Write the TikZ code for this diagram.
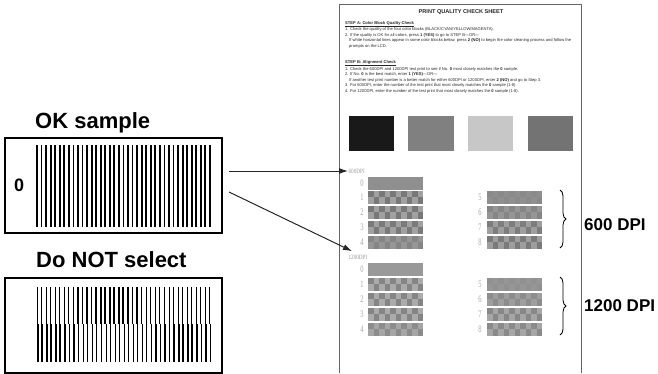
\documentclass[tikz,border=0pt]{standalone}
\usepackage{fontspec}
\setmainfont{Liberation Sans}
\newfontfamily\sheetserif{Liberation Serif}
\usetikzlibrary{arrows.meta, positioning, decorations.pathreplacing, calc}

% one checker bar of the alignment test print: x, y, base shade, cell shade
\newcommand{\chkbar}[4]{%
  \fill[black!#3] ({#1},{#2}) rectangle ++(55,12.5);
  \foreach \cx in {0,2,...,8}
    \fill[black!#4] ({#1+\cx*5.5},{#2}) rectangle ++(5.5,6.25);
  \foreach \cx in {1,3,...,9}
    \fill[black!#4] ({#1+\cx*5.5},{#2+6.25}) rectangle ++(5.5,6.25);
}

\begin{document}
\begin{tikzpicture}[
    x=1pt, y=-1pt,
    % Sample boxes on the left
    samplebox/.style={
      rectangle, draw, line width=2pt,
      minimum width=217pt, minimum height=95pt
    },
    headtext/.style={font=\bfseries\fontsize{22}{24}\selectfont, inner sep=0pt},
    dpitext/.style={font=\bfseries\fontsize{17}{20}\selectfont, inner sep=0pt},
    % Texts printed on the check sheet
    steptext/.style={font=\fontsize{4.1}{5.5}\selectfont, align=left,
      text=black!85, inner sep=0pt},
    dpilbl/.style={font=\sheetserif\fontsize{6.5}{7}\selectfont, text=black!40,
      inner sep=0.5pt, xscale=0.8},
    rownum/.style={font=\sheetserif\fontsize{10}{10}\selectfont, text=black!35,
      inner sep=0pt, xscale=0.65},
    % Pointer arrow
    ptr/.style={-{Latex[length=9pt,width=6pt]}, line width=1pt, black!85},
    dpibrace/.style={decorate, decoration={brace, amplitude=6pt}, line width=0.8pt}
  ]
  \useasboundingbox (0,0) rectangle (658,373);

  % ============ OK sample ============
  \node[samplebox] (okbox) at (113.5,185) {};
  \node[headtext, above right=3pt and 31pt of okbox.north west] (oklbl) {OK sample};
  \node[font=\bfseries\fontsize{18}{18}\selectfont, inner sep=0pt,
    right=10pt of okbox.west] (okzero) {0};
  \foreach \i in {0,...,38}
    \draw[line width=1.8pt] ({37+\i*4.55},145) -- ++(0,82);

  % ============ Do NOT select ============
  \node[samplebox, below=43pt of okbox] (noselbox) {};
  \node[headtext, above right=9pt and 32pt of noselbox.north west] (nosellbl) {Do NOT select};
  \foreach \i in {0,...,38} {
    \pgfmathsetmacro{\wa}{1.25-0.75*cos((\i-2)*12)}
    \pgfmathsetmacro{\wb}{2.5-\wa}
    \draw[line width=\wa pt] ({37+\i*4.55},287) -- ++(0,37);
    \draw[line width=\wb pt] ({37.6+\i*4.55},324) -- ++(0,38);
  }

  % ============ Check sheet ============
  \draw[black!60, line width=0.8pt] (339,373) -- (339,4) -- (581,4) -- (581,373);
  \node[font=\bfseries\fontsize{5.6}{6}\selectfont, text=black!85] (title) at (461,12)
    {PRINT QUALITY CHECK SHEET};
  \node[steptext, anchor=north west] (stepA) at (345,21)
    {\underline{\textbf{STEP A: Color Block Quality Check}}\\
     1. Check the quality of the four color blocks (BLACK/CYAN/YELLOW/MAGENTA).\\
     2. If the quality is OK for all colors, press \textbf{1 (YES)} to go to STEP B---OR---\\
     \hspace*{4pt}If white horizontal lines appear in some color blocks below, press \textbf{2 (NO)} to begin the color cleaning process and follow the\\
     \hspace*{4pt}prompts on the LCD.};
  \node[steptext, anchor=north west] (stepB) at (345,60)
    {\underline{\textbf{STEP B: Alignment Check}}\\
     1. Check the 600DPI and 1200DPI test print to see if No. \textbf{0} most closely matches the \textbf{0} sample.\\
     2. If No. \textbf{0} is the best match, enter \textbf{1 (YES)}---OR---\\
     \hspace*{4pt}If another test print number is a better match for either 600DPI or 1200DPI, enter \textbf{2 (NO)} and go to Step 3.\\
     3. For 600DPI, enter the number of the test print that most closely matches the \textbf{0} sample (1-8).\\
     4. For 1200DPI, enter the number of the test print that most closely matches the \textbf{0} sample (1-8).};

  % color blocks
  \fill[black!90] (349,116) rectangle (394,151);
  \fill[black!50] (408,116) rectangle (454,151);
  \fill[black!22] (468,116) rectangle (513,151);
  \fill[black!55] (528,116) rectangle (573,151);

  % ============ 600DPI test print ============
  \node[dpilbl, anchor=west] (lbl600) at (348,171) {600DPI};
  \fill[black!44] (368,177) rectangle ++(55,12.5);
  \node[rownum] (n600r0) at (362,183) {0};
  \foreach \r/\bs/\cs in {1/37/53, 2/37/53, 3/37/52, 4/41/48} {
    \chkbar{368}{176+\r*15}{\bs}{\cs}
    \node[rownum] at (362,{182+\r*15}) {\r};
  }
  \foreach \r/\bs/\cs in {5/44/46, 6/41/48, 7/38/51, 8/38/52} {
    \chkbar{487}{176+(\r-4)*15}{\bs}{\cs}
    \node[rownum] at (480,{182+(\r-4)*15}) {\r};
  }

  % ============ 1200DPI test print ============
  \node[dpilbl, anchor=west] (lbl1200) at (348,257) {1200DPI};
  \fill[black!40] (368,263) rectangle ++(55,12.5);
  \node[rownum] (n1200r0) at (362,269) {0};
  \foreach \r/\bs/\cs in {1/33/48, 2/33/48, 3/33/48, 4/35/45} {
    \chkbar{368}{263+\r*15}{\bs}{\cs}
    \node[rownum] at (362,{269+\r*15}) {\r};
  }
  \foreach \r/\bs/\cs in {5/41/43, 6/38/45, 7/35/47, 8/35/46} {
    \chkbar{487}{263+(\r-4)*15}{\bs}{\cs}
    \node[rownum] at (480,{269+(\r-4)*15}) {\r};
  }

  % ============ Braces and labels ============
  \draw[dpibrace] (560,190) -- (560,248);
  \node[dpitext, anchor=west] (dpi600) at (584,225) {600 DPI};
  \draw[dpibrace] (560,277) -- (560,335);
  \node[dpitext, anchor=west] (dpi1200) at (584,306) {1200 DPI};

  % ============ Pointers ============
  \coordinate (okout1) at ([xshift=6pt,yshift=14pt]okbox.east);
  \coordinate (okout2) at ([xshift=6pt,yshift=-7pt]okbox.east);
  \draw[ptr] (okout1) -- (lbl600.west);
  \draw[ptr] (okout2) -- ([xshift=4pt,yshift=3pt]lbl1200.north west);

\end{tikzpicture}
\end{document}
